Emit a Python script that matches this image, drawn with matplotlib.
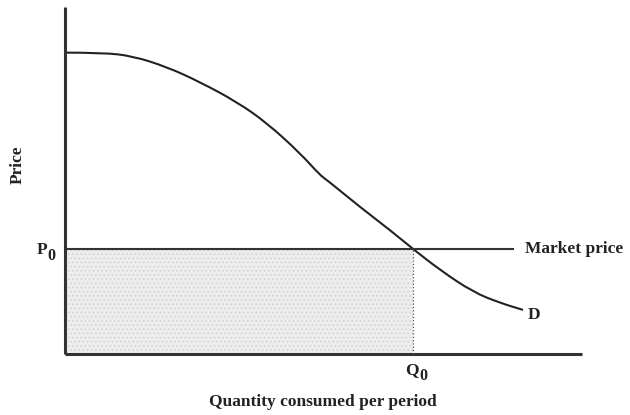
import matplotlib.pyplot as plt
from matplotlib.path import Path
from matplotlib.patches import PathPatch

# demand curve (quantity, price)
demanda_q = [0.0, 0.76, 1.36, 2.04, 2.7, 3.44, 4.04, 4.7, 5.1, 5.24, 5.9, 6.5, 6.96, 7.5, 8.16, 8.7, 9.16]
demanda_p = [8.61, 8.61, 8.51, 8.2, 7.77, 7.2, 6.6, 5.74, 5.11, 4.97, 4.2, 3.54, 3.0, 2.4, 1.77, 1.46, 1.26]

precio_mercado = 3.0    # P0
cantidad_q0 = 6.96      # Q0
fin_linea_precio = 8.96
eje_x_max = 10.34
eje_y_max = 9.9

plt.rcParams['hatch.color'] = '#cfcfcf'
plt.rcParams['hatch.linewidth'] = 0.6

fig = plt.figure(figsize=(6.3, 4.15), dpi=100)
ax = fig.add_axes([0, 0, 1, 1])
ax.set_xlim(-1.3, 11.3)
ax.set_ylim(-1.743, 10.114)
ax.axis('off')

fuente = dict(family='Liberation Serif', weight='bold', size=12.5, color='#222222')
sub = dict(family='Liberation Serif', weight='bold', size=11.5, color='#222222')

# area sombreada
ax.fill_between([0, cantidad_q0], 0, precio_mercado, facecolor='#ededed',
                hatch='....', edgecolor='#cfcfcf', linewidth=0)

# ejes
ax.plot([0, 0], [0, eje_y_max], color='#333333', lw=2.2, solid_capstyle='butt')
ax.plot([0, eje_x_max], [0, 0], color='#333333', lw=2.2, solid_capstyle='butt')

# precio de mercado y Q0
ax.plot([0, fin_linea_precio], [precio_mercado, precio_mercado], color='#333333', lw=1.5)
ax.plot([cantidad_q0, cantidad_q0], [0, precio_mercado], color='#555555', lw=0.9, ls=':')

# curva de demanda, suavizada con curvas cuadraticas por los puntos medios
pts = list(zip(demanda_q, demanda_p))
verts = [pts[0]]
codes = [Path.MOVETO]
for i in range(1, len(pts) - 1):
    mid = ((pts[i][0] + pts[i + 1][0]) / 2, (pts[i][1] + pts[i + 1][1]) / 2)
    verts += [pts[i], mid]
    codes += [Path.CURVE3, Path.CURVE3]
verts.append(pts[-1])
codes.append(Path.LINETO)
ax.add_patch(PathPatch(Path(verts, codes), fill=False, edgecolor='#222222', lw=1.5))

ax.text(-0.36, precio_mercado - 0.02, 'P', ha='right', va='center', **fuente)
ax.text(-0.36, precio_mercado - 0.2, '0', ha='left', va='center', **sub)
ax.text(-0.94, 5.4, 'Price', rotation=90, ha='center', va='center', **fuente)
ax.text(cantidad_q0 + 0.12, -0.45, 'Q', ha='right', va='center', **fuente)
ax.text(cantidad_q0 + 0.12, -0.62, '0', ha='left', va='center', **sub)
ax.text(5.16, -1.37, 'Quantity consumed per period', ha='center', va='center', **fuente)
ax.text(9.2, precio_mercado, 'Market price', ha='left', va='center', **fuente)
ax.text(9.25, 1.12, 'D', ha='left', va='center', **fuente)

fig.savefig('out.png', dpi=100, facecolor='white')
